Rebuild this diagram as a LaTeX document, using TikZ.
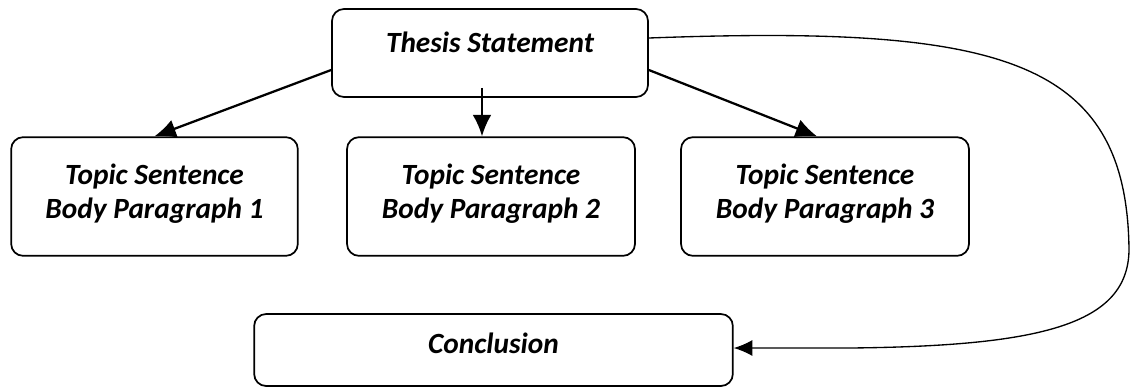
\documentclass[tikz,border=0pt]{standalone}
\usepackage{fontspec}
\setmainfont{Carlito}
\usetikzlibrary{
arrows.meta,
calc,
positioning
}
\tikzset{>=latex}
\tikzset{
	essaybox/.style={draw, line width=1.3pt, rounded corners=9pt, align=center,
		font=\fontsize{22}{25}\selectfont\bfseries\itshape},
	flowarrow/.style={line width=1.7pt, -{Latex[length=16pt,width=14pt]}},
	backarrow/.style={line width=1pt, -{Latex[length=14pt,width=12pt]}}
}

\begin{document}
\begin{tikzpicture}[x=0.75pt, y=-0.75pt]
	\useasboundingbox (0,0) rectangle (1130,387);
	% boxes
	\node[essaybox, minimum width=237pt, minimum height=66pt, text height=14pt, text depth=15pt] (thesis) at (490,53) {Thesis Statement};
	\node[essaybox, minimum width=215pt, minimum height=89pt, text depth=8pt] (body1) at (154.5,196.5) {Topic Sentence\\Body Paragraph 1};
	\node[essaybox, minimum width=216pt, minimum height=89pt, text depth=8pt] (body2) at (491,196.5) {Topic Sentence\\Body Paragraph 2};
	\node[essaybox, minimum width=216pt, minimum height=89pt, text depth=8pt] (body3) at (825,196.5) {Topic Sentence\\Body Paragraph 3};
	\node[essaybox, minimum width=359pt, minimum height=54pt, text height=14pt, text depth=9pt] (concl) at (493.5,350) {Conclusion};
	% arrows
	\draw[flowarrow] ($(thesis.west)+(0,17)$) -- (body1.north);
	\draw[flowarrow] ($(thesis.south)+(-8,-10)$) -- ($(body2.north)+(-9,0)$);
	\draw[flowarrow] ($(thesis.east)+(0,17)$) -- ($(body3.north)+(-8,0)$);
	\draw[backarrow] ($(thesis.east)+(0,-15)$) .. controls (1000,25) and (1127,58) .. (1129,250)
		.. controls (1128,325) and (1040,346) .. (850,348) -- ($(concl.east)+(0,-2)$);
\end{tikzpicture}
\end{document}
